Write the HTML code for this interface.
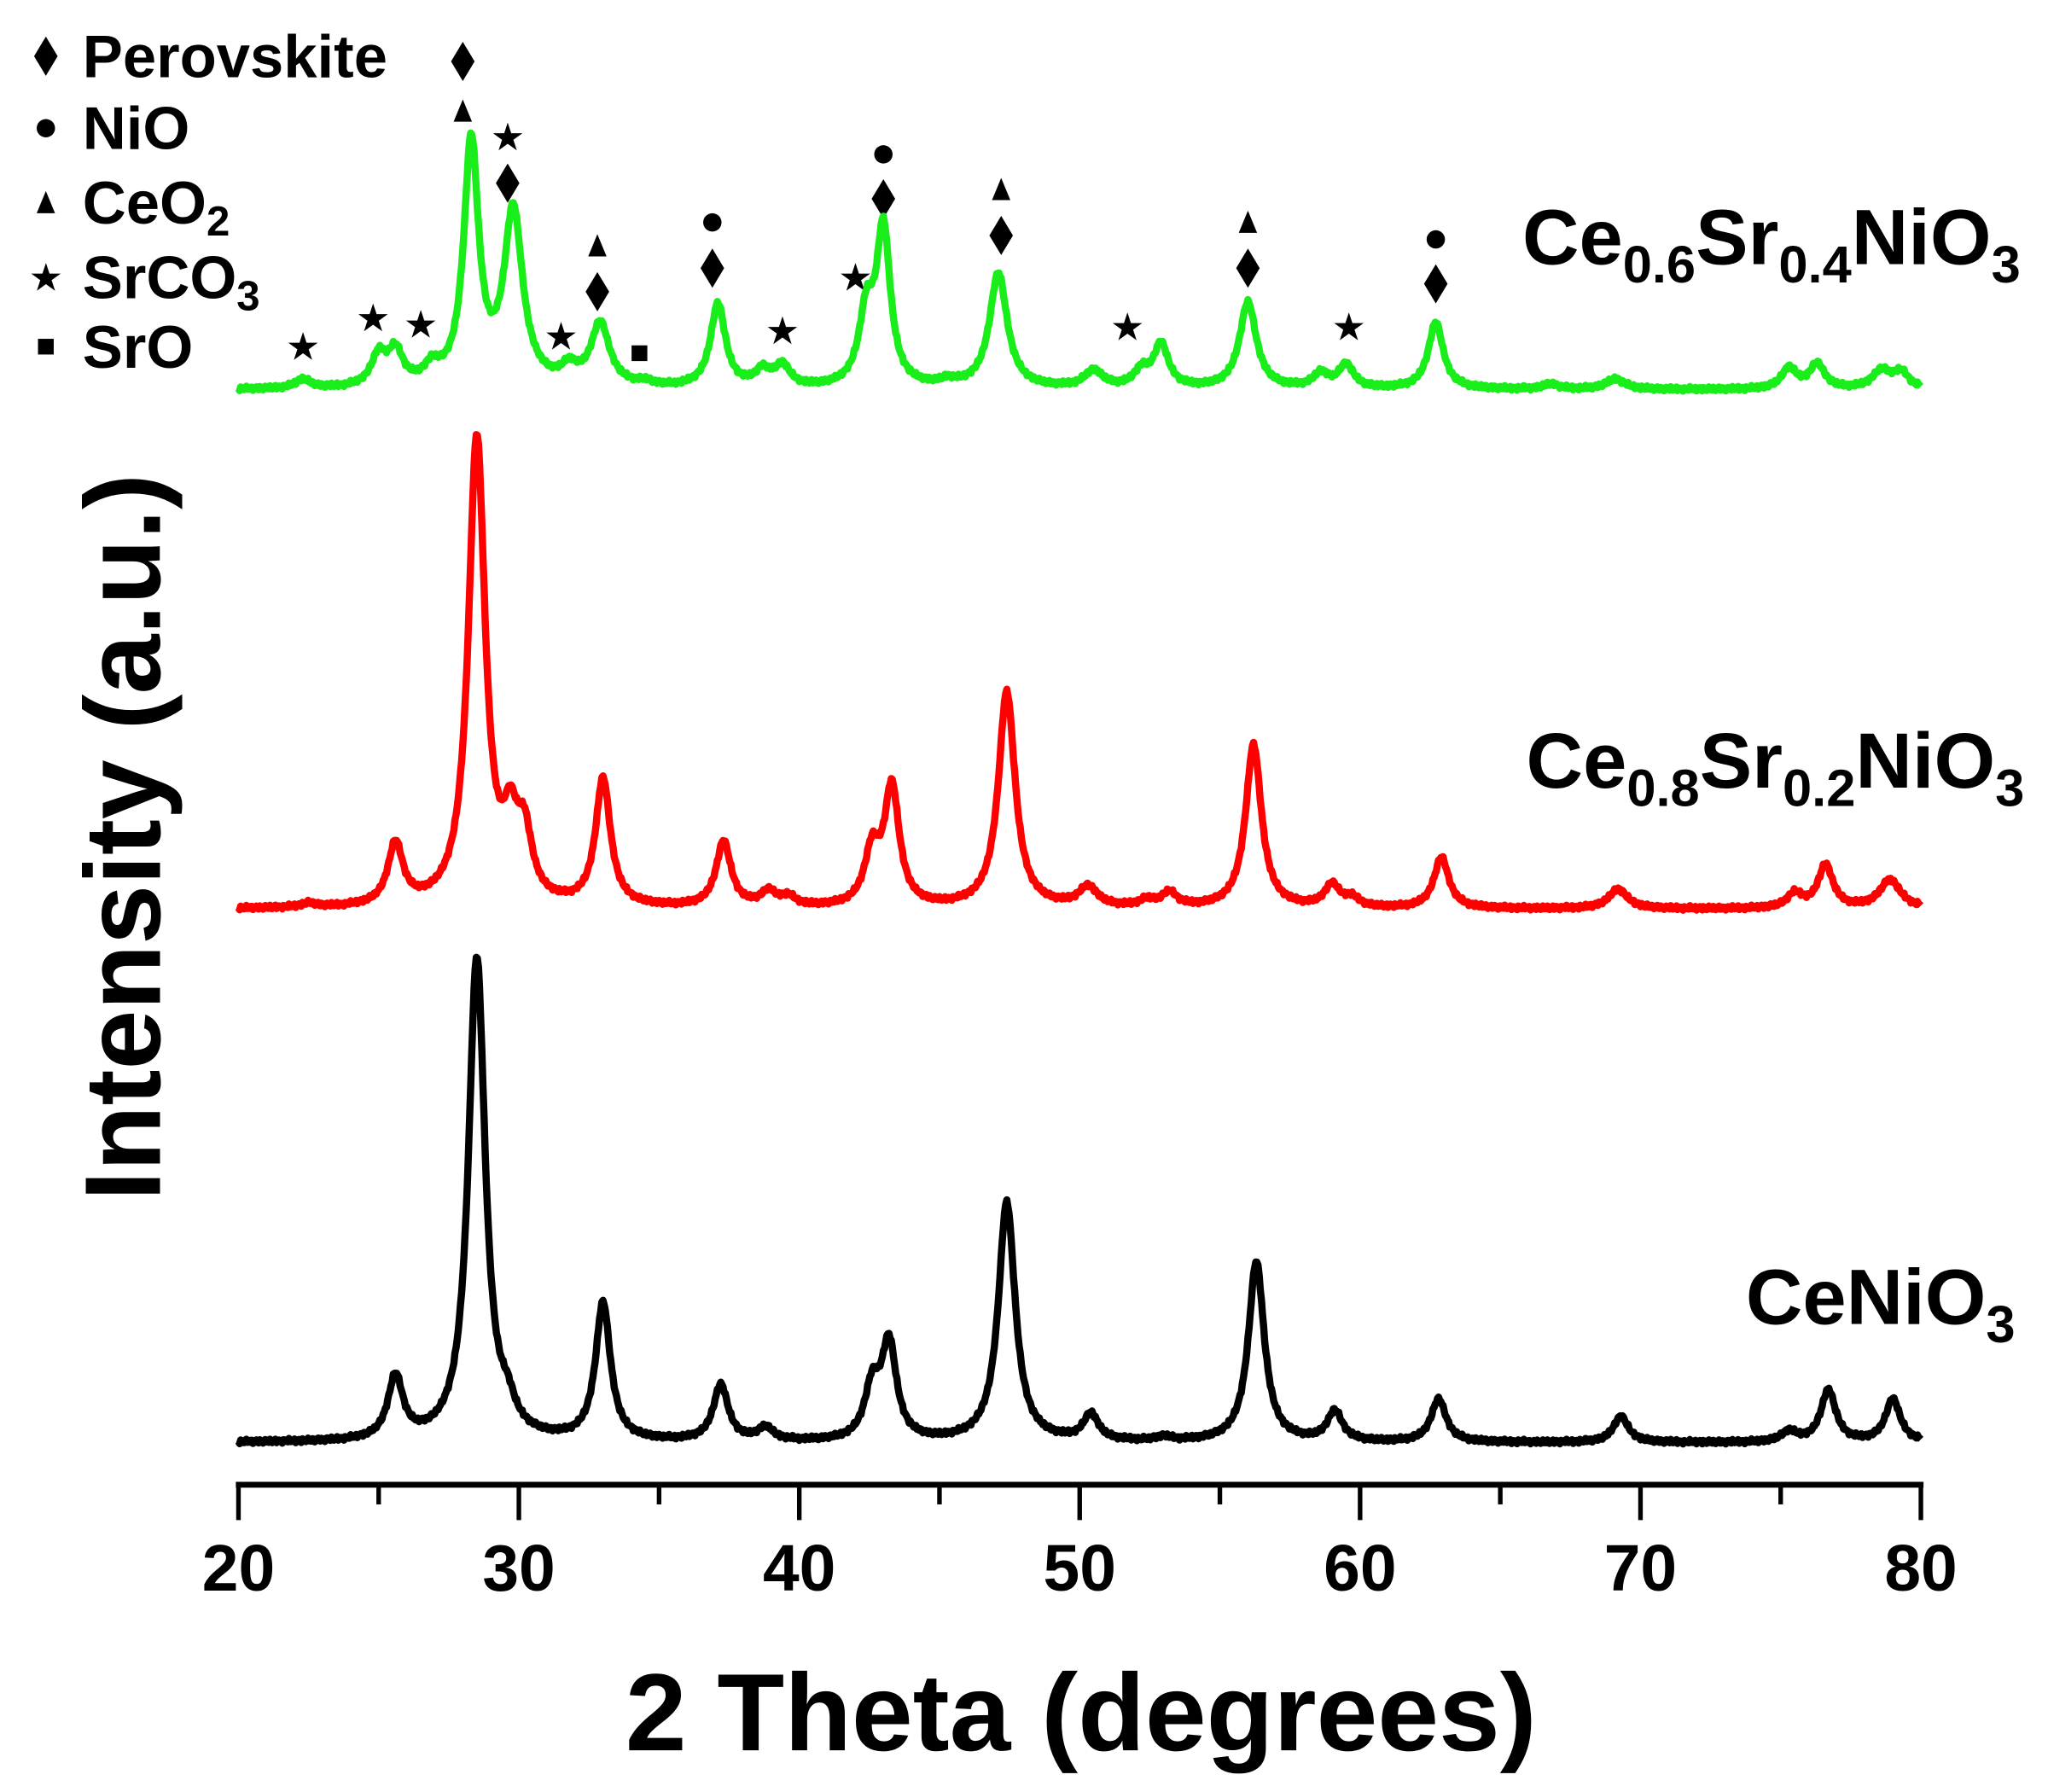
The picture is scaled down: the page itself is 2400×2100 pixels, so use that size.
<!DOCTYPE html>
<html><head><meta charset="utf-8"><style>
html,body{margin:0;padding:0;background:#fff;}
svg{display:block;}
text{font-family:"Liberation Sans",Arial,sans-serif;font-weight:bold;fill:#000;}
</style></head><body>
<svg id="s" width="2400" height="2100" viewBox="0 0 2400 2100" xmlns="http://www.w3.org/2000/svg">
<g transform="scale(1.5355,1.533)" id="g">
<line x1="180" y1="1135" x2="1468" y2="1135" stroke="#000" stroke-width="4.5"/>
<g stroke="#000" stroke-width="3.5">
<line x1="182" y1="1135" x2="182" y2="1162"/><line x1="289" y1="1135" x2="289" y2="1150"/>
<line x1="396" y1="1135" x2="396" y2="1162"/><line x1="503" y1="1135" x2="503" y2="1150"/>
<line x1="610" y1="1135" x2="610" y2="1162"/><line x1="717" y1="1135" x2="717" y2="1150"/>
<line x1="824" y1="1135" x2="824" y2="1162"/><line x1="931" y1="1135" x2="931" y2="1150"/>
<line x1="1038" y1="1135" x2="1038" y2="1162"/><line x1="1145" y1="1135" x2="1145" y2="1150"/>
<line x1="1252" y1="1135" x2="1252" y2="1162"/><line x1="1359" y1="1135" x2="1359" y2="1150"/>
<line x1="1466" y1="1135" x2="1466" y2="1162"/>
</g>
<g font-size="50" text-anchor="middle">
<text x="182" y="1216">20</text><text x="396" y="1216">30</text><text x="610" y="1216">40</text>
<text x="824" y="1216">50</text><text x="1038" y="1216">60</text><text x="1252" y="1216">70</text><text x="1466" y="1216">80</text>
</g>
<text x="825" y="1338" font-size="84" text-anchor="middle">2 Theta (degrees)</text>
<text transform="translate(122,640) rotate(-90)" font-size="82" text-anchor="middle">Intensity (a.u.)</text>
<text x="1542" y="202" font-size="60" text-anchor="end">Ce<tspan font-size="40" dy="14">0.6</tspan><tspan dy="-14">Sr</tspan><tspan font-size="40" dy="14">0.4</tspan><tspan dy="-14">NiO</tspan><tspan font-size="40" dy="14">3</tspan></text>
<text x="1545" y="602" font-size="60" text-anchor="end">Ce<tspan font-size="40" dy="14">0.8</tspan><tspan dy="-14">Sr</tspan><tspan font-size="40" dy="14">0.2</tspan><tspan dy="-14">NiO</tspan><tspan font-size="40" dy="14">3</tspan></text>
<text x="1538" y="1012" font-size="60" text-anchor="end">CeNiO<tspan font-size="40" dy="14">3</tspan></text>
<g font-size="46">
<text x="63" y="59">Perovskite</text>
<text x="63" y="114">NiO</text>
<text x="63" y="171">CeO<tspan font-size="32" dy="9">2</tspan></text>
<text x="63" y="228">SrCO<tspan font-size="32" dy="9">3</tspan></text>
<text x="63" y="281">SrO</text>
</g>
<g id="marks"></g>
</g>
</svg>
<script>
var NS="http://www.w3.org/2000/svg",g=document.getElementById('g'),mk=document.getElementById('marks');
function X(t){return 182+21.4*(t-20);}
function series(base,peaks,color,w){
 var d="";
 for(var t=20;t<=80.001;t+=0.04){
  var y=base;
  for(var i=0;i<peaks.length;i++){var p=peaks[i],hw=p[2]||0.32,u=(t-p[0])/hw;y-= (base-p[1])/(1+u*u);}
  y+=Math.sin(t*37.1)*1.0+Math.sin(t*91.3)*0.8;
  d+=(d?"L":"M")+X(t).toFixed(1)+","+y.toFixed(1);
 }
 var pa=document.createElementNS(NS,'path');pa.setAttribute('d',d);pa.setAttribute('fill','none');
 pa.setAttribute('stroke',color);pa.setAttribute('stroke-width',w);pa.setAttribute('stroke-linejoin','round');g.appendChild(pa);
}
series(1103,[[25.6,1055],[28.5,733,0.36],[29.6,1087],[33.0,998],[37.2,1060],[38.8,1093],[42.6,1065],[43.2,1030],[47.4,920,0.36],[50.4,1083],[53,1100],[56.3,965,0.34],[59.1,1080],[62.8,1070],[69.3,1083],[75.3,1095],[76.7,1063],[79.0,1070]],'#000',5.5);
series(695,[[22.5,692],[25.6,648],[28.5,337,0.36],[29.7,645],[30.2,648],[33.0,598],[37.3,645],[38.9,684],[39.6,688],[42.6,655],[43.3,605],[47.4,530,0.36],[50.3,680,0.4],[52.4,690],[53.2,684],[56.2,570,0.34],[59.0,678],[59.7,688],[62.9,656],[69.2,680,0.4],[75.5,684],[76.6,662],[78.9,673,0.45]],'#f00',5.5);
series(298,[[22.3,291],[25.0,275],[25.6,272],[26.9,286],[28.3,112,0.32],[29.8,165,0.4],[31.8,286],[32.9,250,0.4],[34.5,295],[37.1,234],[38.7,286],[39.4,282],[42.4,245],[43.0,180,0.3],[45.3,294],[47.1,210,0.38],[50.5,285,0.4],[52.2,286],[52.9,265],[56.0,232,0.36],[58.6,287],[59.5,280],[62.7,247],[66.8,294],[69.1,290,0.4],[75.3,282],[76.3,279],[78.6,284,0.4],[79.3,286]],'#1aee1a',5.5);
function txt(x,y,s,fs){var t=document.createElementNS(NS,'text');t.setAttribute('x',x);t.setAttribute('y',y);t.setAttribute('font-size',fs);t.setAttribute('text-anchor','middle');t.textContent=s;mk.appendChild(t);}
function dia(x,y){var p=document.createElementNS(NS,'polygon');p.setAttribute('points',(x)+','+(y-15)+' '+(x+9)+','+y+' '+x+','+(y+15)+' '+(x-9)+','+y);mk.appendChild(p);}
function tri(x,y){var p=document.createElementNS(NS,'polygon');p.setAttribute('points',x+','+(y-9)+' '+(x+7)+','+(y+8)+' '+(x-7)+','+(y+8));mk.appendChild(p);}
function cir(x,y){var c=document.createElementNS(NS,'circle');c.setAttribute('cx',x);c.setAttribute('cy',y);c.setAttribute('r',7);mk.appendChild(c);}
function sq(x,y){var r=document.createElementNS(NS,'rect');r.setAttribute('x',x-6);r.setAttribute('y',y-6);r.setAttribute('width',12);r.setAttribute('height',12);mk.appendChild(r);}
function star(x,y){txt(x,y+9,'★',26);}
dia(35,43);cir(35,98);tri(35,155);star(35,212);sq(35,265);
star(X(22.3),265);star(X(24.8),243);star(X(26.5),248);
dia(X(28.0),47);tri(X(28.0),85);
star(X(29.6),105);dia(X(29.6),140);
star(X(31.5),257);
tri(X(32.8),188);dia(X(32.8),223);
sq(X(34.3),270);
cir(X(36.9),170);dia(X(36.9),205);
star(X(39.4),253);star(X(42.0),212);
cir(X(43.0),118);dia(X(43.0),152);
tri(X(47.2),145);dia(X(47.2),180);
star(X(51.7),250);
tri(X(56.0),170);dia(X(56.0),205);
star(X(59.6),250);
cir(X(62.7),183);dia(X(62.7),217);
</script>
</body></html>
